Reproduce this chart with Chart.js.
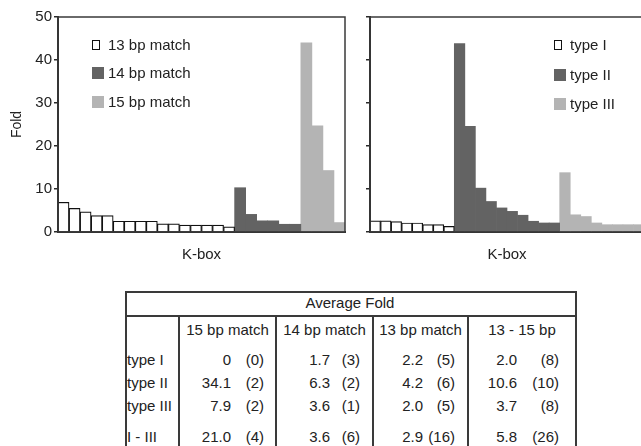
<!DOCTYPE html>
<html>
<head>
<meta charset="utf-8">
<script src="https://cdn.jsdelivr.net/npm/chart.js@4.4.0/dist/chart.umd.min.js"></script>
<style>
  html, body { margin: 0; padding: 0; background: #fff; overflow: hidden; width: 641px; height: 446px; }
  body { position: relative; font-family: "Liberation Sans", Arial, sans-serif; color: #222; }
  canvas { position: absolute; top: 0; }
  #leftChart { left: 0; }
  #rightChart { left: 355px; }
  .lg { position: absolute; font-size: 15px; line-height: 18px; height: 18px; white-space: nowrap; }
  .sw { position: absolute; box-sizing: border-box; }
  .t { position: absolute; font-size: 15px; line-height: 18px; height: 18px; white-space: nowrap; }
  .ln { position: absolute; background: #3a3a3a; }
</style>
</head>
<body>
<canvas id="leftChart" width="350" height="270"></canvas>
<canvas id="rightChart" width="295" height="270"></canvas>
<div id="legends"></div>
<div id="table"></div>
<script>
// categories: 26 K-boxes along the x axis
const kboxLabels = ["K1","K2","K3","K4","K5","K6","K7","K8","K9","K10","K11","K12","K13",
                    "K14","K15","K16","K17","K18","K19","K20","K21","K22","K23","K24","K25","K26"];
const yTicks = [0, 10, 20, 30, 40, 50];

// left chart, grouped by match length
const leftNames = ["13 bp match", "14 bp match", "15 bp match"];
const match13 = [6.9, 5.5, 4.7, 3.8, 3.8, 2.5, 2.5, 2.5, 2.5, 1.9, 1.9, 1.6, 1.6, 1.6, 1.6, 1.2];
const match14 = [10.3, 4.1, 2.6, 2.6, 1.8, 1.8];
const match15 = [44.0, 24.7, 14.3, 2.2];

// right chart, grouped by type
const rightNames = ["type I", "type II", "type III"];
const typeI = [2.6, 2.6, 2.4, 2.1, 2.1, 1.7, 1.7, 1.3];
const typeII = [43.8, 24.6, 10.2, 7.1, 5.6, 4.8, 3.9, 2.5, 2.1, 2.1];
const typeIII = [13.8, 4.0, 3.6, 2.1, 1.7, 1.7, 1.7, 1.7];

// table
const tableTitle = "Average Fold";
const tableCols = ["15 bp match", "14 bp match", "13 bp match", "13 - 15 bp"];
const tableRows = ["type I", "type II", "type III", "I - III"];
const foldValues = [
  ["0", "1.7", "2.2", "2.0"],
  ["34.1", "6.3", "4.2", "10.6"],
  ["7.9", "3.6", "2.0", "3.7"],
  ["21.0", "3.6", "2.9", "5.8"]
];
const foldCounts = [
  [0, 3, 5, 8],
  [2, 2, 6, 10],
  [2, 1, 5, 8],
  [4, 6, 16, 26]
];

const FONT = "'Liberation Sans', Arial, sans-serif";
const fills = ["#ffffff", "#636363", "#b4b4b4"];

// put each group into its own dataset, null outside its run of K-boxes
function buildDatasets(groups, names) {
  let start = 0;
  return groups.map((vals, i) => {
    const data = kboxLabels.map(() => null);
    vals.forEach((v, j) => { data[start + j] = v; });
    start += vals.length;
    return {
      label: names[i],
      data: data,
      backgroundColor: fills[i],
      borderColor: i === 0 ? "#111" : fills[i],
      borderWidth: i === 0 ? 1.2 : 0,
      borderSkipped: "start"
    };
  });
}

const plotBox = {
  id: "plotBox",
  afterDraw(chart) {
    const a = chart.chartArea, ctx = chart.ctx;
    ctx.save();
    ctx.strokeStyle = "#3a3a3a";
    ctx.lineWidth = 1.5;
    ctx.strokeRect(a.left, a.top, a.right - a.left, a.bottom - a.top);
    ctx.restore();
  }
};

function makeChart(id, groups, names, yWidth, showLabels, padRight) {
  return new Chart(document.getElementById(id), {
    type: "bar",
    data: { labels: kboxLabels, datasets: buildDatasets(groups, names) },
    options: {
      responsive: false,
      animation: false,
      layout: { padding: { top: 17, right: padRight, left: 0, bottom: 0 } },
      datasets: { bar: { grouped: false, barPercentage: 1, categoryPercentage: 1 } },
      plugins: { legend: { display: false }, tooltip: { enabled: false } },
      scales: {
        x: {
          offset: true,
          grid: { display: false },
          ticks: { display: false },
          border: { display: true, color: "#2a2a2a", width: 2 },
          title: { display: true, text: "K-box", color: "#222", font: { family: FONT, size: 15 }, padding: { top: 0, bottom: 6 } },
          afterFit: s => { s.height = 38; }
        },
        y: {
          min: 0,
          max: 50,
          afterBuildTicks: s => { s.ticks = yTicks.map(v => ({ value: v })); },
          ticks: { display: showLabels, color: "#222", padding: 2, font: { family: FONT, size: 15 } },
          grid: { display: true, drawOnChartArea: false, drawTicks: true, tickLength: 4, color: "#2a2a2a", lineWidth: 1.5 },
          border: { display: true, color: "#2a2a2a", width: 2 },
          title: { display: showLabels, text: "Fold", color: "#222", font: { family: FONT, size: 14 }, padding: { top: 9, bottom: 0 } },
          afterFit: s => { s.width = yWidth; }
        }
      }
    },
    plugins: [plotBox]
  });
}

makeChart("leftChart", [match13, match14, match15], leftNames, 58, true, 5);
makeChart("rightChart", [typeI, typeII, typeIII], rightNames, 15, false, 6);

// legends inside the plots
function addLegend(names, swatchX, textX, ys) {
  const box = document.getElementById("legends");
  names.forEach((name, i) => {
    const sw = document.createElement("div");
    sw.className = "sw";
    if (i === 0) {
      sw.style.cssText = `left:${swatchX}px;top:${ys[i] - 5}px;width:8px;height:10px;background:#fff;border:1.5px solid #111;`;
    } else {
      sw.style.cssText = `left:${swatchX}px;top:${ys[i] - 6}px;width:12px;height:12px;background:${fills[i]};`;
    }
    box.appendChild(sw);
    const t = document.createElement("div");
    t.className = "lg";
    t.style.left = textX + "px";
    t.style.top = (ys[i] - 9) + "px";
    t.textContent = name;
    box.appendChild(t);
  });
}
addLegend(leftNames, 92, 108, [45, 73, 102]);
addLegend(rightNames, 554, 570, [45, 75, 104]);

// table below the charts
const tbl = document.getElementById("table");
const colEdges = [125, 178, 275, 372, 467, 575];
const valueRight = [231, 330, 423, 517];
const countRight = [264, 360, 455, 559];
const rowY = [360, 383, 406, 437];
const tableTop = 291, headLine = 315, tableBottom = 470;

function line(x, y, w, h) {
  const d = document.createElement("div");
  d.className = "ln";
  d.style.cssText = `left:${x}px;top:${y}px;width:${w}px;height:${h}px;`;
  tbl.appendChild(d);
}
function text(str, x, y, align, w) {
  const d = document.createElement("div");
  d.className = "t";
  d.textContent = str;
  const width = w || 100;
  let left = x;
  if (align === "right") left = x - width;
  if (align === "center") left = x - width / 2;
  d.style.cssText = `left:${left}px;top:${y - 9}px;width:${width}px;text-align:${align};`;
  tbl.appendChild(d);
}

line(colEdges[0], tableTop, colEdges[5] - colEdges[0] + 1.5, 1.5);
line(colEdges[0], headLine, colEdges[5] - colEdges[0] + 1.5, 1.5);
line(colEdges[0], tableTop, 1.5, tableBottom - tableTop);
line(colEdges[5], tableTop, 1.5, tableBottom - tableTop);
for (let i = 1; i < 5; i++) line(colEdges[i], headLine, 1.5, tableBottom - headLine);

text(tableTitle, (colEdges[0] + colEdges[5]) / 2, 303, "center", 200);
tableCols.forEach((c, j) => text(c, (colEdges[j + 1] + colEdges[j + 2]) / 2 + 1, 330, "center", 100));
tableRows.forEach((r, i) => {
  text(r, colEdges[0] + 2, rowY[i], "left", 60);
  foldValues[i].forEach((v, j) => {
    text(v, valueRight[j], rowY[i], "right", 50);
    text("(" + foldCounts[i][j] + ")", countRight[j], rowY[i], "right", 40);
  });
});
</script>
</body>
</html>
